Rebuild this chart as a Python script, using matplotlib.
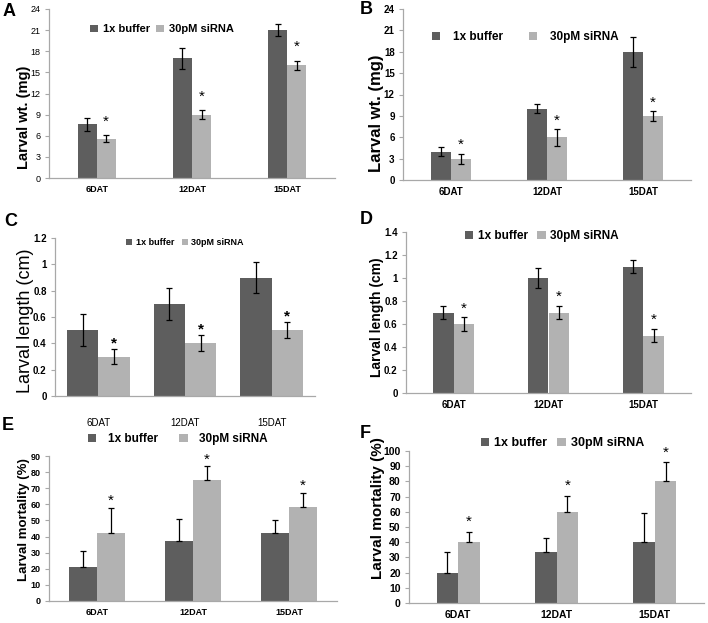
import numpy as np
import matplotlib
matplotlib.use("Agg")
import matplotlib.pyplot as plt

plt.rcParams['font.family'] = ['Liberation Sans', 'DejaVu Sans']

days = ["6DAT", "12DAT", "15DAT"]
series_names = ["1x buffer", "30pM siRNA"]

# A - larval weight (mg)
a_buf = [7.6, 17.0, 21.0]
a_buf_err = [0.95, 1.5, 0.9]
a_sir = [5.6, 9.0, 16.0]
a_sir_err = [0.45, 0.6, 0.65]

# B - larval weight (mg)
b_buf = [4.0, 10.0, 18.0]
b_buf_err = [0.6, 0.6, 2.1]
b_sir = [3.0, 6.0, 9.0]
b_sir_err = [0.7, 1.2, 0.65]

# C - larval length (cm)
c_buf = [0.5, 0.7, 0.9]
c_buf_err = [0.12, 0.12, 0.12]
c_sir = [0.3, 0.4, 0.5]
c_sir_err = [0.06, 0.06, 0.06]

# D - larval length (cm)
d_buf = [0.7, 1.0, 1.1]
d_buf_err = [0.06, 0.09, 0.06]
d_sir = [0.6, 0.7, 0.5]
d_sir_err = [0.06, 0.06, 0.06]

# E - larval mortality (%), upper error only
e_buf = [21.0, 37.0, 42.0]
e_buf_err = [10.0, 14.0, 8.5]
e_sir = [42.0, 75.0, 58.5]
e_sir_err = [16.0, 8.5, 8.5]

# F - larval mortality (%), upper error only
f_buf = [20.0, 33.5, 40.0]
f_buf_err = [13.5, 9.0, 19.0]
f_sir = [40.0, 60.0, 80.0]
f_sir_err = [7.0, 10.5, 12.5]

DARK = "#5e5e5e"
LIGHT = "#b2b2b2"
AXIS = "#a8a8a8"

W, H = 708, 623
fig = plt.figure(figsize=(W / 100, H / 100), dpi=100)


def px_axes(l, t, r, b):
    return fig.add_axes([l / W, 1 - b / H, (r - l) / W, (b - t) / H])


def panel(box, buf, buf_err, sir, sir_err, ymax, step, width, upper_only,
          ylabel, ylab_pos, ylab_size, letter, letter_pos, leg_anchor,
          leg_size, leg_gap, star_off, tick_bold=True, tick_size=7,
          narrow=False, ylab_bold=True, star_size=11, xpad=5, text_pad=0.4):
    ax = px_axes(*box)
    x = np.arange(len(days))
    if upper_only:
        be = [np.zeros(3), buf_err]
        se = [np.zeros(3), sir_err]
    else:
        be = buf_err
        se = sir_err
    ekw = dict(ecolor="black", elinewidth=0.9, capsize=2.2, capthick=0.9)
    b1 = ax.bar(x - width / 2, buf, width, color=DARK, yerr=be,
                error_kw=ekw, label=series_names[0], zorder=2)
    b2 = ax.bar(x + width / 2, sir, width, color=LIGHT, yerr=se,
                error_kw=ekw, label=series_names[1], zorder=2)
    for xi, v, e in zip(x, sir, sir_err):
        ax.annotate("*", (xi + width / 2, v + e), xytext=(0, star_off),
                    textcoords="offset points", ha="center", va="bottom",
                    fontsize=star_size,
                    fontweight="bold" if narrow else "normal")
    ax.set_xlim(-0.5, 2.5)
    ax.set_ylim(0, ymax)
    ax.set_yticks(np.arange(0, ymax + step / 2, step))
    fam = ['Liberation Sans Narrow', 'Liberation Sans'] if narrow else ['Liberation Sans']
    ax.set_xticks(x)
    ax.set_xticklabels(days, fontsize=tick_size,
                       fontweight="normal" if narrow else "bold", family=fam)
    if step < 1:
        ax.set_yticklabels([("%g" % v) for v in ax.get_yticks()])
    for lab in ax.get_yticklabels():
        lab.set_fontsize(tick_size)
        lab.set_fontweight("bold" if tick_bold else "normal")
        lab.set_family(fam)
    for s in ["top", "right"]:
        ax.spines[s].set_visible(False)
    for s in ["left", "bottom"]:
        ax.spines[s].set_color(AXIS)
        ax.spines[s].set_linewidth(0.9)
    ax.tick_params(axis="y", length=3, color=AXIS, pad=3)
    ax.tick_params(axis="x", length=0, pad=xpad)
    ax.legend(handles=[b1, b2], ncol=2, frameon=False, loc="center",
              bbox_to_anchor=leg_anchor, handlelength=0.7, handleheight=0.7,
              handletextpad=text_pad, columnspacing=leg_gap,
              prop=dict(size=leg_size, weight="bold", family=fam))
    fig.text(ylab_pos[0] / W, 1 - ylab_pos[1] / H, ylabel, rotation=90,
             ha="center", va="center", fontsize=ylab_size,
             fontweight="bold" if ylab_bold else "normal")
    fig.text(letter_pos[0] / W, 1 - letter_pos[1] / H, letter, ha="left",
             va="center", fontsize=13, fontweight="bold")
    return ax


panel((49, 9, 335, 178), a_buf, a_buf_err, a_sir, a_sir_err, 24, 3, 0.2,
      False, "Larval wt. (mg)", (24, 117), 10.5, "A", (3, 12),
      (0.395, 0.88), 8, 0.6, 5, tick_bold=False, tick_size=6.5)

panel((403, 9, 691, 180), b_buf, b_buf_err, b_sir, b_sir_err, 24, 3, 0.21,
      False, "Larval wt. (mg)", (377, 113), 12, "B", (360, 10),
      (0.424, 0.836), 8.5, 2.2, 1, tick_size=7, text_pad=1.1)

panel((55, 238, 315, 396), c_buf, c_buf_err, c_sir, c_sir_err, 1.2, 0.2, 0.36,
      False, "Larval length (cm)", (26, 321), 13, "C", (4, 222),
      (0.5, 0.97), 6.5, 0.8, -1, tick_size=7, narrow=True,
      ylab_bold=False, xpad=16)

panel((406, 232, 691, 393), d_buf, d_buf_err, d_sir, d_sir_err, 1.4, 0.2, 0.22,
      False, "Larval length (cm)", (377, 317), 10, "D", (360, 220),
      (0.477, 0.975), 8.5, 0.8, 1, tick_size=7)

panel((49, 456, 337, 601), e_buf, e_buf_err, e_sir, e_sir_err, 90, 10, 0.29,
      True, "Larval mortality (%)", (24, 520), 9.5, "E", (2, 426),
      (0.448, 1.117), 8.5, 1.8, 0, tick_size=6.5, text_pad=1.0)

panel((409, 451, 704, 603), f_buf, f_buf_err, f_sir, f_sir_err, 100, 10, 0.22,
      True, "Larval mortality (%)", (378, 508), 11, "F", (360, 433),
      (0.52, 1.05), 9, 0.8, 2, tick_size=7.5)

fig.savefig("out.png", dpi=100)
